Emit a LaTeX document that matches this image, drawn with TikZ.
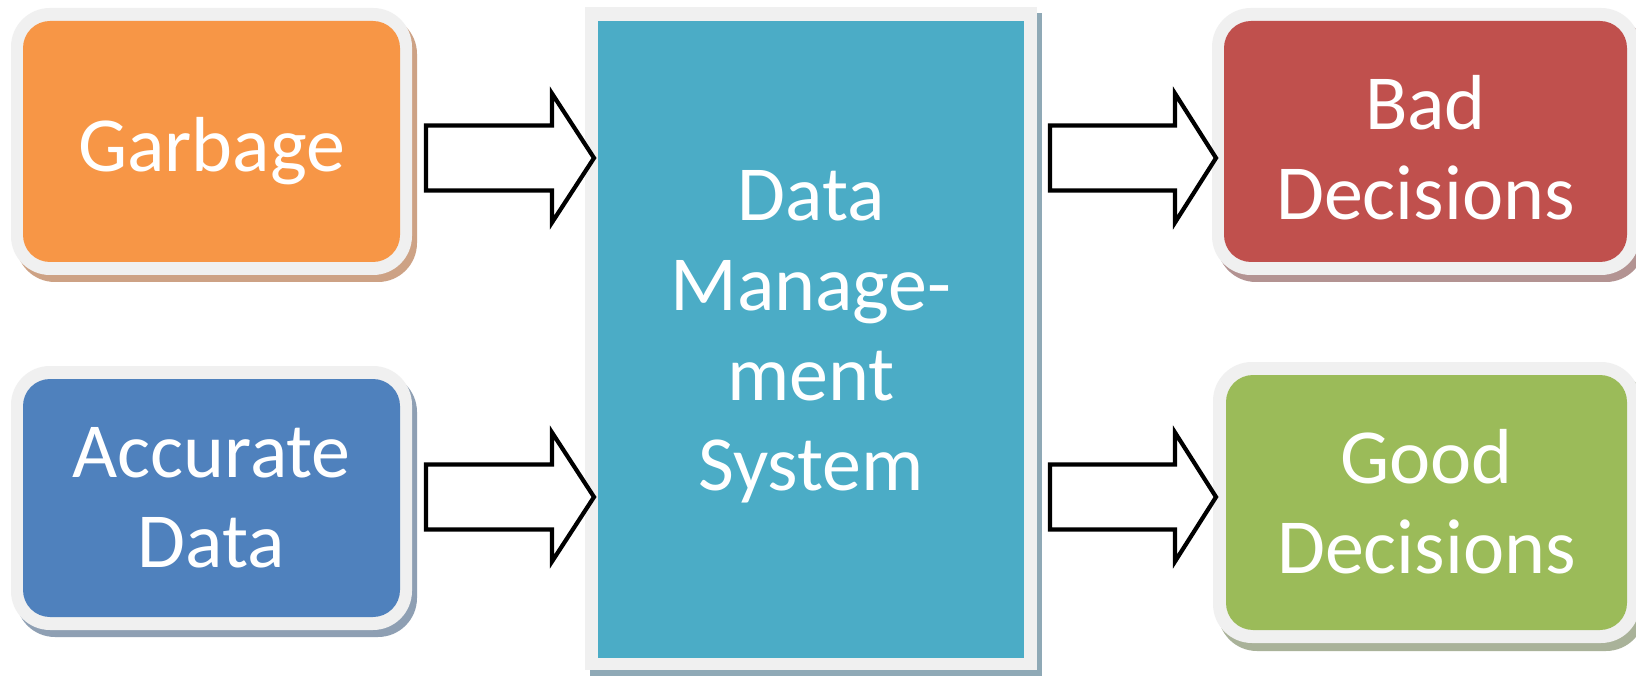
\documentclass[tikz,border=0pt]{standalone}
\usepackage{fontspec}
\setmainfont{Carlito}
\definecolor{orangeF}{HTML}{F79646}
\definecolor{blueF}{HTML}{4F81BD}
\definecolor{redF}{HTML}{C0504D}
\definecolor{greenF}{HTML}{9BBB59}
\definecolor{tealF}{HTML}{4BACC6}
\definecolor{frameG}{HTML}{F0F0F0}
\definecolor{orangeS}{HTML}{CDA285}
\definecolor{blueS}{HTML}{8E9FB3}
\definecolor{redS}{HTML}{B39392}
\definecolor{greenS}{HTML}{A9B299}
\definecolor{tealS}{HTML}{8FA9B6}
\tikzset{
  boxfill/.style={rounded corners=27pt, inner sep=0pt},
  boxtext/.style={inner sep=0pt, text=white,
    font=\fontsize{78}{90}\selectfont, align=center},
  blockarrow/.style={draw=black, line width=4.2pt, fill=white, line join=miter},
}
\newcommand\blockarr[4]{% start x, head base x, tip x, centre y
  \draw[blockarrow] (#1,#4-32.5) -- (#2,#4-32.5) -- (#2,#4-64.5) -- (#3,#4)
    -- (#2,#4+64.5) -- (#2,#4+32.5) -- (#1,#4+32.5) -- cycle;}
\begin{document}
\begin{tikzpicture}[x=1pt,y=-1pt]
\useasboundingbox[fill=white] (0,0) rectangle (1636,676);

% Garbage
\fill[orangeS, rounded corners=39pt] (16,15) rectangle (417,282);
\fill[frameG, rounded corners=39pt] (11,8) rectangle (412,275);
\node[boxfill, fill=orangeF, minimum width=377pt, minimum height=241pt,
  label={[boxtext, yshift=-10pt]center:Garbage}] (garbage) at (211.5,141.5) {};

% Accurate Data
\fill[blueS, rounded corners=39pt] (16,373) rectangle (417,637);
\fill[frameG, rounded corners=39pt] (11,366) rectangle (412,630);
\node[boxfill, fill=blueF, minimum width=377pt, minimum height=238pt,
  label={[boxtext]center:Accurate\\Data}] (accurate) at (211.5,498) {};

% Data Management System
\fill[tealS] (590,13) rectangle (1042,677);
\fill[frameG] (585,7) rectangle (1037,670);
\node[boxfill, rounded corners=0pt, fill=tealF, minimum width=426pt, minimum height=637pt,
  label={[boxtext, yshift=3pt]center:Data\\Manage-\\ment\\System}] (dms) at (811,339.5) {};

% Bad Decisions
\fill[redS, rounded corners=39pt] (1217,15) rectangle (1645,282);
\fill[frameG, rounded corners=39pt] (1212,8) rectangle (1640,275);
\node[boxfill, fill=redF, minimum width=403pt, minimum height=241pt,
  label={[boxtext, yshift=-6pt]center:Bad\\Decisions}] (bad) at (1425.5,141.5) {};

% Good Decisions
\fill[greenS, rounded corners=39pt] (1218,369) rectangle (1645,651);
\fill[frameG, rounded corners=39pt] (1213,362) rectangle (1640,643);
\node[boxfill, fill=greenF, minimum width=401pt, minimum height=255pt,
  label={[boxtext, yshift=1pt]center:Good\\Decisions}] (good) at (1426.5,502.5) {};

% block arrows
\blockarr{426}{552}{594}{158}
\blockarr{426}{552}{594}{497}
\blockarr{1050}{1175}{1216}{158}
\blockarr{1050}{1175}{1216}{497}
\end{tikzpicture}
\end{document}
